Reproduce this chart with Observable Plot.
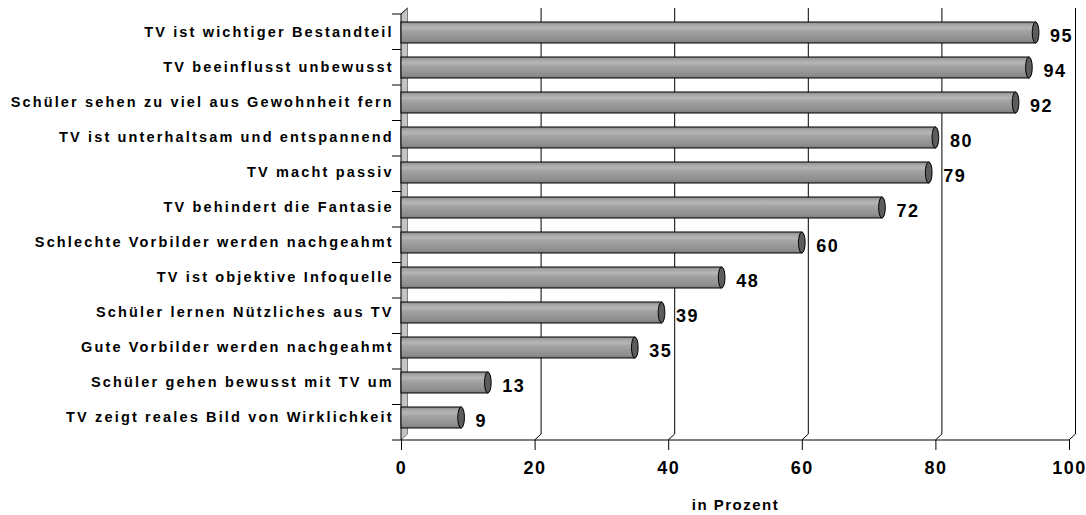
<!DOCTYPE html>
<html>
<head>
<meta charset="utf-8">
<script src="https://cdn.jsdelivr.net/npm/d3@7"></script>
<script src="https://cdn.jsdelivr.net/npm/@observablehq/plot@0.6"></script>
<style>
  html, body { margin: 0; padding: 0; background: #fff; }
</style>
</head>
<body>
<div id="chart"></div>
<script>
const categories = [
  "TV ist wichtiger Bestandteil",
  "TV beeinflusst unbewusst",
  "Schüler sehen zu viel aus Gewohnheit fern",
  "TV ist unterhaltsam und entspannend",
  "TV macht passiv",
  "TV behindert die Fantasie",
  "Schlechte Vorbilder werden nachgeahmt",
  "TV ist objektive Infoquelle",
  "Schüler lernen Nützliches aus TV",
  "Gute Vorbilder werden nachgeahmt",
  "Schüler gehen bewusst mit TV um",
  "TV zeigt reales Bild von Wirklichkeit"
];
const values = [95, 94, 92, 80, 79, 72, 60, 48, 39, 35, 13, 9];
const xTicks = [0, 20, 40, 60, 80, 100];
const xTitle = "in Prozent";

const data = categories.map((c, i) => ({category: c, value: values[i]}));

// 3D decorations: walls, back-wall gridlines, floor line, category separator ticks
function decor(index, scales, vals, dims) {
  const x = scales.x;
  const top = dims.marginTop;
  const bottom = dims.height - dims.marginBottom;
  const x0 = x(xTicks[0]);
  const xEnd = x(xTicks[xTicks.length - 1]);
  const DX = 6.5, DY = 6;
  const g = d3.create("svg:g");
  g.append("path")
    .attr("d", `M${x0},${bottom}L${x0},${top}L${x0 + DX},${top - DY}L${x0 + DX},${bottom - DY}Z`)
    .attr("fill", "#c4c4c4");
  g.append("path")
    .attr("d", `M${x0 + DX},${top - DY}L${x0 + DX},${bottom - DY}L${x0},${bottom}`)
    .attr("fill", "none").attr("stroke", "#666").attr("stroke-width", 0.8);
  for (const t of xTicks.slice(1)) {
    const xt = x(t);
    g.append("path")
      .attr("d", `M${xt + DX},${top - DY}L${xt + DX},${bottom - DY}L${xt},${bottom}`)
      .attr("fill", "none").attr("stroke", "black").attr("stroke-width", 1);
  }
  g.append("path")
    .attr("d", `M${x0},${bottom}L${x0},${top}L${x0 + DX},${top - DY}`)
    .attr("fill", "none").attr("stroke", "black").attr("stroke-width", 1);
  g.append("path")
    .attr("d", `M${x0},${bottom}L${xEnd},${bottom}`)
    .attr("fill", "none").attr("stroke", "black").attr("stroke-width", 1.2);
  const n = categories.length;
  const step = (bottom - top) / n;
  for (let i = 0; i <= n; ++i) {
    const yy = top + i * step;
    g.append("path")
      .attr("d", `M${x0 - 9},${yy}L${x0},${yy}`)
      .attr("stroke", "black").attr("stroke-width", 1);
  }
  return g.node();
}

const svg = Plot.plot({
  width: 1086,
  height: 515,
  marginLeft: 401,
  marginRight: 17,
  marginTop: 14,
  marginBottom: 75,
  style: {fontFamily: "'Liberation Sans', Arial, sans-serif", color: "black", background: "white"},
  x: {domain: [0, 100]},
  y: {domain: categories, paddingInner: 0.4, paddingOuter: 0.2},
  marks: [
    decor,
    Plot.barX(data, {x: "value", y: "category", fill: "url(#cyl)", stroke: "black", strokeWidth: 1, dy: -2}),
    Plot.barX(data, {x1: d => d.value - 0.5, x2: d => d.value + 0.5, y: "category", rx: 3.5, ry: 10.5, fill: "#5c5c5c", stroke: "black", strokeWidth: 1, dy: -2}),
    Plot.text(data, {x: "value", y: "category", text: d => String(d.value), dx: 14, dy: 1, textAnchor: "start", fontSize: 18, fontWeight: "bold", fill: "black"}),
    Plot.axisX({ticks: xTicks, tickSize: 10, tickPadding: 11, fontSize: 18, fontWeight: "bold", label: null}),
    Plot.axisY({tickSize: 0, tickPadding: 7.8, dy: -3, fontSize: 14.5, fontWeight: "bold", label: null}),
    Plot.text([xTitle], {frameAnchor: "bottom", dy: 65, lineAnchor: "middle", fontSize: 15, fontWeight: "bold", fill: "black"})
  ]
});

// cylinder gradient
const defs = d3.select(svg).insert("defs", ":first-child");
const grad = defs.append("linearGradient").attr("id", "cyl").attr("x1", 0).attr("y1", 0).attr("x2", 0).attr("y2", 1);
[[0, "#8a8a8a"], [0.12, "#a4a4a4"], [0.28, "#b6b6b6"], [0.42, "#a4a4a4"], [0.6, "#9a9a9a"], [0.85, "#8e8e8e"], [1, "#7a7a7a"]]
  .forEach(([o, c]) => grad.append("stop").attr("offset", o).attr("stop-color", c));

d3.select(svg).selectAll("text").each(function() {
  const t = this.textContent;
  if (categories.includes(t)) this.style.letterSpacing = "2.15px";
  else if (t === xTitle) this.style.letterSpacing = "1.5px";
  else this.style.letterSpacing = "1.5px";
});

document.getElementById("chart").appendChild(svg);
</script>
</body>
</html>
